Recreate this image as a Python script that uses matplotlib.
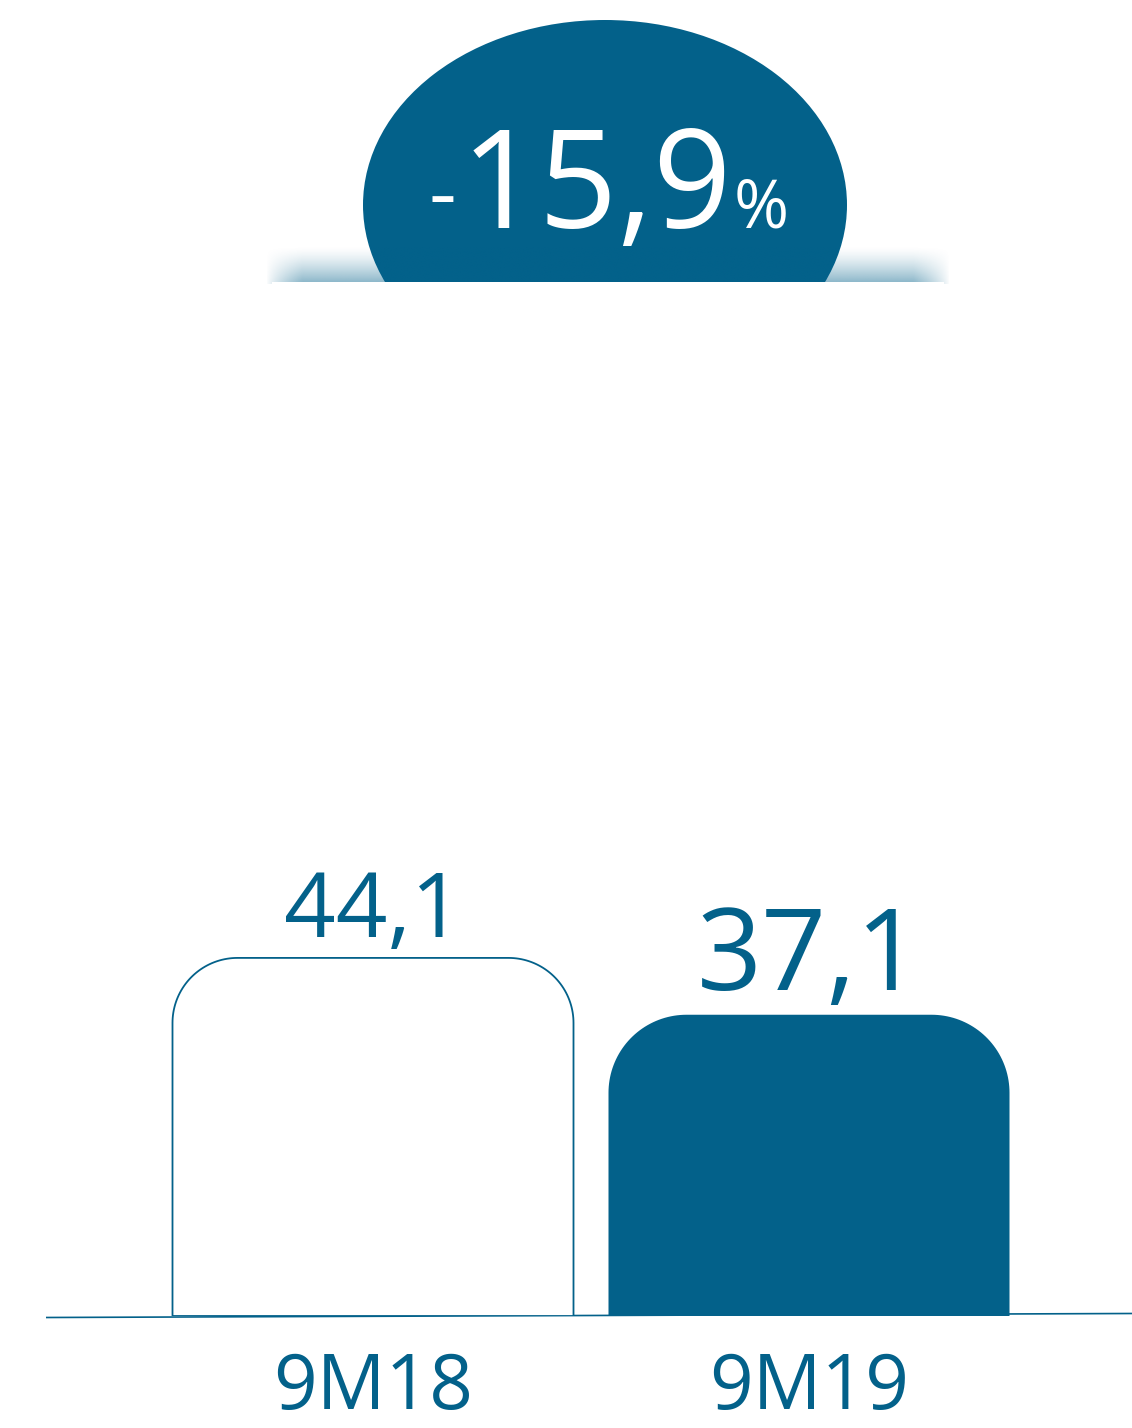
import numpy as np
import matplotlib
matplotlib.use("Agg")
import matplotlib.pyplot as plt
from matplotlib.patches import Ellipse, Rectangle, PathPatch
from matplotlib.path import Path

# ---- data ----
categories = ["9M18", "9M19"]
values = [44.1, 37.1]
value_labels = ["44,1", "37,1"]
change_number = "15,9"
change_sign = "-"
change_unit = "%"

# ---- style ----
BLUE = "#03618A"
FONT = ["Open Sans", "DejaVu Sans"]
W, H = 1132, 1428
BASE_PX = 1316          # baseline pixel row
PX_PER_UNIT = 8.12      # pixels per value unit
CENTERS_PX = [373, 809]
BAR_W_PX = 401
RADII_PX = [65, 78]
value_sizes = [65, 82]
value_gaps_px = [21, 25]
cat_size = 55
CAT_BASELINE_PX = 1409

fig = plt.figure(figsize=(W / 100, H / 100), dpi=100)
fig.patch.set_facecolor("white")

# background overlay in pixel coordinates
bg = fig.add_axes([0, 0, 1, 1])
bg.set_xlim(0, W)
bg.set_ylim(H, 0)
bg.axis("off")

# bubble
bg.add_patch(Ellipse((605, 205), 484, 370, facecolor=BLUE, edgecolor="none", zorder=1))

# soft shadow above white panel
xs = np.linspace(262, 956, 700)
ys = np.linspace(246, 284, 80)
X, Y = np.meshgrid(xs, ys)
fy = np.clip((Y - 246) / 36.0, 0, 1) ** 1.4
gl = np.clip((X - 266) / 36.0, 0, 1)
gr = np.clip((950 - X) / 36.0, 0, 1)
gx = (gl * gr) ** 0.8
alpha = 0.45 * fy * gx
rgba = np.zeros(X.shape + (4,))
rgba[..., 0] = 0x03 / 255
rgba[..., 1] = 0x61 / 255
rgba[..., 2] = 0x8A / 255
rgba[..., 3] = alpha
bg.imshow(rgba, extent=(262, 956, 284, 246), zorder=2, interpolation="bilinear", aspect="auto")
bg.set_xlim(0, W)
bg.set_ylim(H, 0)

# white panel
bg.add_patch(Rectangle((272, 282), 944 - 272, H - 282, facecolor="white", edgecolor="none", zorder=3))

# baseline
bg.plot([46, 1132], [1317.5, 1313.5], color=BLUE, lw=1.2, zorder=4, solid_capstyle="butt")

# change text
t_main = bg.text(596, 228, change_number, fontsize=99, color="white", ha="center",
                 va="baseline", family=FONT, zorder=5)
fig.canvas.draw()
bb = t_main.get_window_extent()
bg.text(bb.x0 - 4, 222, change_sign, fontsize=62, color="white", ha="right",
        va="baseline", family=FONT, zorder=5)
bg.text(bb.x1 + 2, 228, change_unit, fontsize=48, color="white", ha="left",
        va="baseline", family=FONT, zorder=5)

# ---- bar axes ----
ax = fig.add_axes([0, (H - BASE_PX) / H, 1, BASE_PX / H])
ax.patch.set_alpha(0)
ax.axis("off")
x_unit_px = CENTERS_PX[1] - CENTERS_PX[0]
ax.set_xlim(-CENTERS_PX[0] / x_unit_px, (W - CENTERS_PX[0]) / x_unit_px)
ax.set_ylim(0, BASE_PX / PX_PER_UNIT)


def rounded_top_path(xc, width, h, rx, ry, n=40):
    x0, x1 = xc - width / 2, xc + width / 2
    pts = [(x0, 0), (x0, h - ry)]
    th = np.linspace(np.pi, np.pi / 2, n)
    pts += list(zip(x0 + rx + rx * np.cos(th), h - ry + ry * np.sin(th)))
    th = np.linspace(np.pi / 2, 0, n)
    pts += list(zip(x1 - rx + rx * np.cos(th), h - ry + ry * np.sin(th)))
    pts += [(x1, 0), (x0, 0)]
    codes = [Path.MOVETO] + [Path.LINETO] * (len(pts) - 2) + [Path.CLOSEPOLY]
    return Path(pts, codes)


bw = BAR_W_PX / x_unit_px
for i, (cat, v) in enumerate(zip(categories, values)):
    r = RADII_PX[i]
    path = rounded_top_path(i, bw, v, r / x_unit_px, r / PX_PER_UNIT)
    if i == 0:
        patch = PathPatch(path, facecolor="white", edgecolor=BLUE, lw=1.3, zorder=3)
    else:
        patch = PathPatch(path, facecolor=BLUE, edgecolor="none", zorder=3)
    ax.add_patch(patch)
    ax.annotate(value_labels[i], xy=(i, v), xytext=(0, value_gaps_px[i] * 0.72),
                textcoords="offset points", ha="center", va="baseline",
                fontsize=value_sizes[i], color=BLUE, family=FONT, annotation_clip=False)
    ax.annotate(cat, xy=(i, 0), xytext=(0, -(CAT_BASELINE_PX - BASE_PX) * 0.72),
                textcoords="offset points", ha="center", va="baseline",
                fontsize=cat_size, color=BLUE, family=FONT, annotation_clip=False)

fig.savefig("out.png", dpi=100, facecolor="white")
